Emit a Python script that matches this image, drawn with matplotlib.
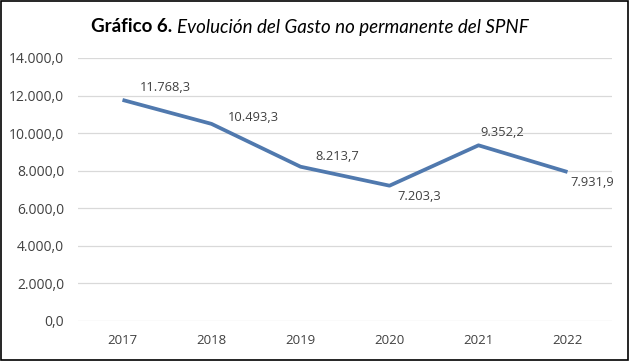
import matplotlib.pyplot as plt
from matplotlib.patches import Rectangle

years = ["2017", "2018", "2019", "2020", "2021", "2022"]
gasto = [11768.3, 10493.3, 8213.7, 7203.3, 9352.2, 7931.9]
labels = ["11.768,3", "10.493,3", "8.213,7", "7.203,3", "9.352,2", "7.931,9"]
yticks = [0, 2000, 4000, 6000, 8000, 10000, 12000, 14000]

# label offsets in pixels (dx, dy) relative to point
offsets = [(43, 12), (42, 6), (37, 10), (30, -11), (24, 13), (25, -11)]

plt.rcParams['font.family'] = ['Open Sans', 'DejaVu Sans']
grey = '#404040'

fig = plt.figure(figsize=(6.29, 3.61), dpi=100)
ax = fig.add_axes([78/629, 1 - 321/361, (612 - 78)/629, (321 - 58)/361])

x = range(len(years))
ax.plot(x, gasto, color='#5079AE', linewidth=2.7, solid_capstyle='butt')

for i, (v, lab) in enumerate(zip(gasto, labels)):
    ax.annotate(lab, (i, v), xytext=offsets[i], textcoords='offset pixels',
                ha='center', va='center', fontsize=9.3, color=grey)

ax.set_xlim(-0.5, 5.5)
ax.set_ylim(0, 14000)
ax.set_xticks(list(x))
ax.set_xticklabels(years)
ax.set_yticks(yticks)
ax.set_yticklabels([f"{t:,.1f}".replace(",", "X").replace(".", ",").replace("X", ".") for t in yticks])
ax.tick_params(axis='both', length=0, labelsize=9.5, colors=grey)
ax.tick_params(axis='y', labelsize=10)
ax.tick_params(axis='x', pad=9)
ax.tick_params(axis='y', pad=10)
ax.grid(axis='y', color='#d9d9d9', linewidth=0.9)
ax.set_axisbelow(True)
for s in ax.spines.values():
    s.set_visible(False)

fig.text(172/629, 1 - 27/361, "Gráfico 6.", ha='right', va='center', family='Lato',
         fontsize=13.5, fontweight='bold', color='black')
fig.text(177/629, 1 - 27/361, "Evolución del Gasto no permanente del SPNF", ha='left', va='center',
         family='Lato', fontsize=13.5, fontstyle='italic', color='black')

fig.patches.append(Rectangle((0.001, 0.002), 0.997, 0.996, transform=fig.transFigure,
                             fill=False, edgecolor='black', linewidth=1.2))

fig.savefig("out.png", dpi=100)
